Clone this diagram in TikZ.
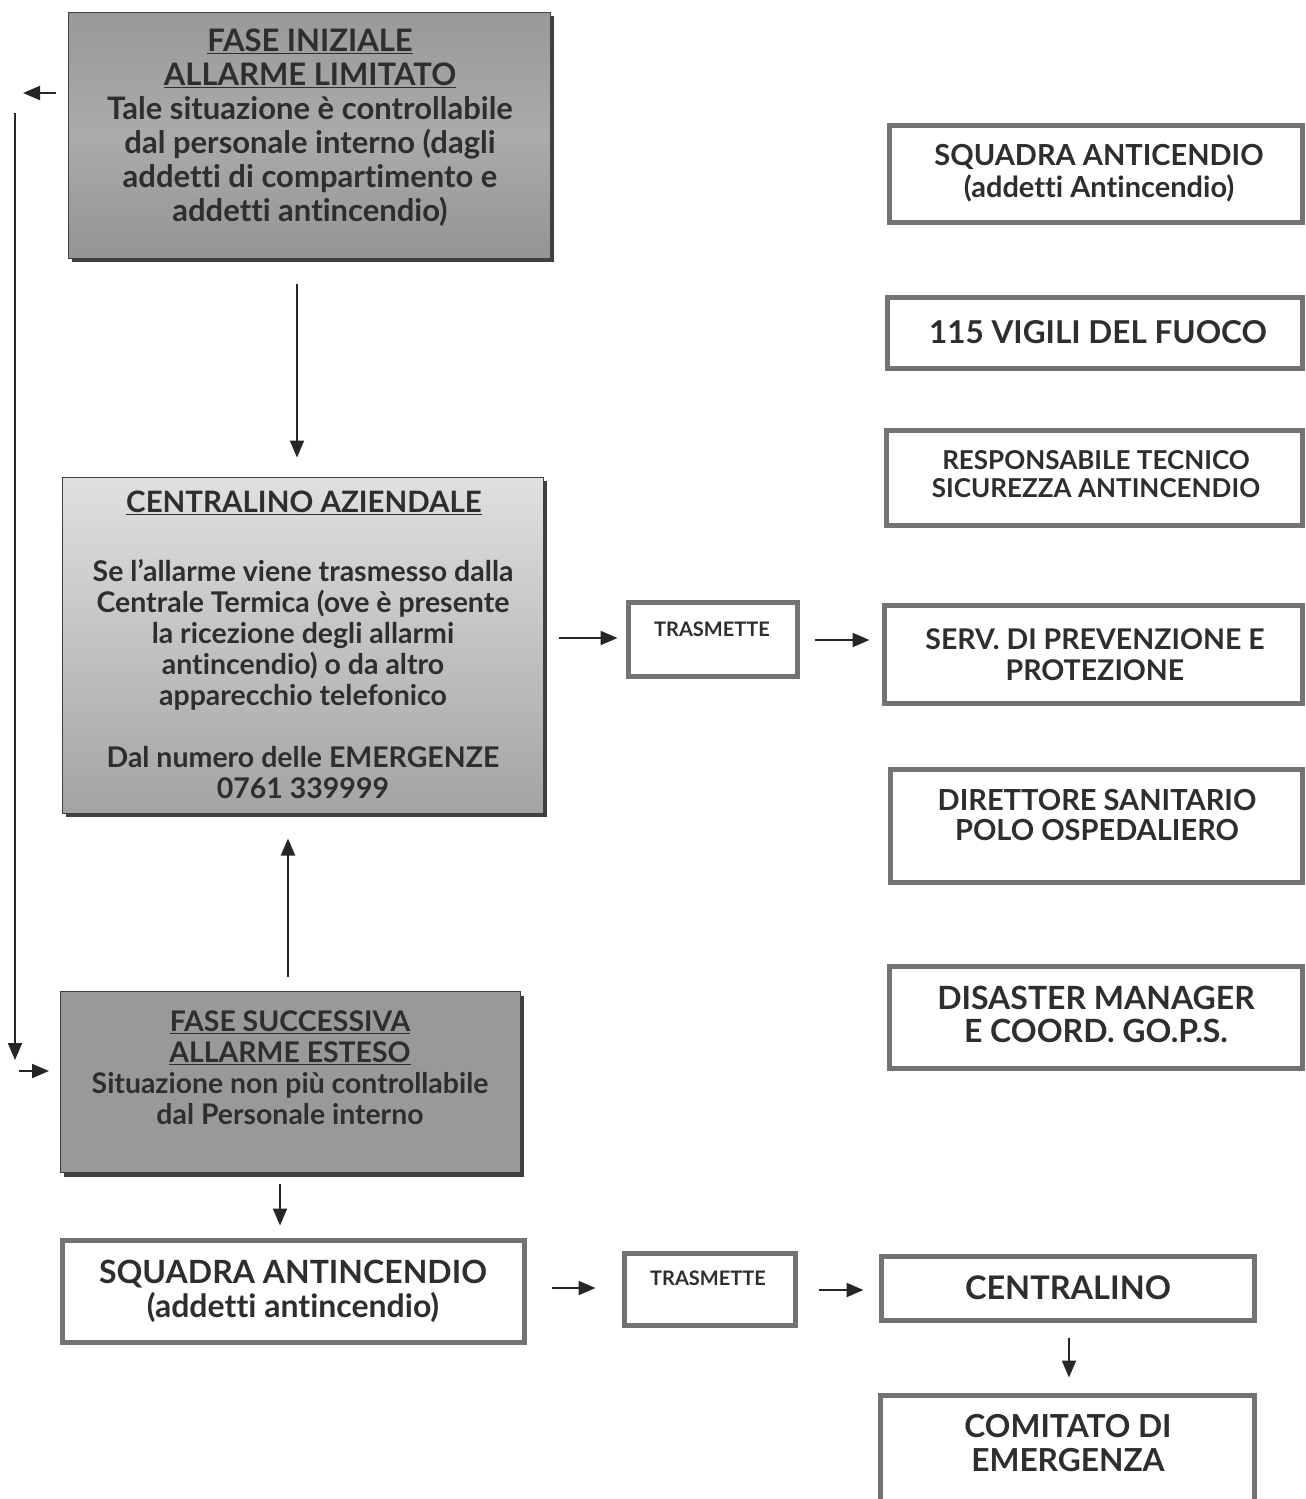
\documentclass[tikz,border=0pt]{standalone}
\usepackage{fontspec}
\setmainfont{Lato}[Ligatures=NoCommon]
\usetikzlibrary{shadows,arrows.meta}
\begin{document}
\begin{tikzpicture}[x=1pt,y=-1pt,
 gbox/.style={draw=black!75, line width=1pt, inner sep=0pt,
   drop shadow={shadow xshift=4pt,shadow yshift=-4pt,fill=black!75,opacity=1}},
 wbox/.style={draw=black!55, line width=5pt, fill=white, inner sep=0pt},
 txt/.style={align=center, text=black!82, inner sep=0pt},
 arr/.style={-{Triangle[length=17pt,width=14pt]}, line width=2pt, draw=black!85}
]
\useasboundingbox (0,0) rectangle (1306,1499);
\fill[white] (0,0) rectangle (1306,1499);

% grey boxes
\node[gbox, minimum width=482pt, minimum height=246pt, top color=black!40, bottom color=black!42, middle color=black!33] (fi) at (309,135) {};
\node[txt, font=\bfseries\fontsize{31}{34}\selectfont] (fit) at (310,128)
 {\underline{FASE INIZIALE}\\\underline{ALLARME LIMITATO}\\Tale situazione è controllabile\\dal personale interno (dagli\\addetti di compartimento e\\addetti antincendio)};

\node[gbox, minimum width=481pt, minimum height=336pt, top color=black!12, bottom color=black!36] (ca) at (302.5,645) {};
\node[txt, font=\bfseries\fontsize{29.5}{31}\selectfont] (cat) at (304,503) {\underline{CENTRALINO AZIENDALE}};
\node[txt, font=\bfseries\fontsize{28.5}{31}\selectfont] (cab) at (303,679)
 {Se l’allarme viene trasmesso dalla\\Centrale Termica (ove è presente\\la ricezione degli allarmi\\antincendio) o da altro\\apparecchio telefonico\\[31pt]Dal numero delle EMERGENZE\\0761 339999};

\node[gbox, minimum width=460pt, minimum height=181pt, fill=black!40] (fs) at (290,1082) {};
\node[txt, font=\bfseries\fontsize{28.4}{31}\selectfont] (fst) at (290,1068)
 {\underline{FASE SUCCESSIVA}\\\underline{ALLARME ESTESO}\\Situazione non più controllabile\\dal Personale interno};

% white boxes
\node[wbox, minimum width=462pt, minimum height=102pt] (sq) at (293,1291) {};
\node[txt, font=\bfseries\fontsize{32}{34}\selectfont] (sqt) at (293,1291) {SQUADRA ANTINCENDIO\\(addetti antincendio)};

\node[wbox, minimum width=169pt, minimum height=74pt] (tr1) at (712.5,639) {};
\node[txt, font=\bfseries\fontsize{20}{22}\selectfont] (tr1t) at (712,629) {TRASMETTE};
\node[wbox, minimum width=171pt, minimum height=72pt] (tr2) at (709.5,1289) {};
\node[txt, font=\bfseries\fontsize{20}{22}\selectfont] (tr2t) at (708,1278) {TRASMETTE};

\node[wbox, minimum width=413pt, minimum height=97pt] (r1) at (1095.5,173.5) {};
\node[txt, font=\bfseries\fontsize{29}{32}\selectfont] (r1t) at (1099,173) {SQUADRA ANTICENDIO\\(addetti Antincendio)};
\node[wbox, minimum width=415pt, minimum height=71pt] (r2) at (1094.5,332.5) {};
\node[txt, font=\bfseries\fontsize{31.5}{32}\selectfont] (r2t) at (1098,332) {115 VIGILI DEL FUOCO};
\node[wbox, minimum width=416pt, minimum height=95pt] (r3) at (1094,477.5) {};
\node[txt, font=\bfseries\fontsize{26}{28}\selectfont] (r3t) at (1096,474) {RESPONSABILE TECNICO\\SICUREZZA ANTINCENDIO};
\node[wbox, minimum width=418pt, minimum height=98pt] (r4) at (1093,654) {};
\node[txt, font=\bfseries\fontsize{28.5}{31}\selectfont] (r4t) at (1095,655) {SERV. DI PREVENZIONE E\\PROTEZIONE};
\node[wbox, minimum width=412pt, minimum height=113pt] (r5) at (1096,825.5) {};
\node[txt, font=\bfseries\fontsize{29}{30}\selectfont] (r5t) at (1097,815) {DIRETTORE SANITARIO\\POLO OSPEDALIERO};
\node[wbox, minimum width=413pt, minimum height=102pt] (r6) at (1095.5,1017) {};
\node[txt, font=\bfseries\fontsize{32}{33}\selectfont] (r6t) at (1096,1014) {DISASTER MANAGER\\E COORD. GO.P.S.};
\node[wbox, minimum width=373pt, minimum height=64pt] (ce) at (1067.5,1288) {};
\node[txt, font=\bfseries\fontsize{32.5}{34}\selectfont] (cet) at (1068,1288) {CENTRALINO};
\node[wbox, minimum width=374pt, minimum height=110pt] (co) at (1067,1450) {};
\node[txt, font=\bfseries\fontsize{31.7}{34}\selectfont] (cot) at (1068,1443) {COMITATO DI\\EMERGENZA};

% side coordinates
\coordinate (lt) at (15,113);
\coordinate (lb) at (15,1060);
\coordinate (ls) at (56,93);
\coordinate (le) at (23,93);
\coordinate (rs) at (19,1071);
\coordinate (re) at (49,1071);

% connectors
\draw[arr] ([shift={(-12,25)}]fi.south) -- ([shift={(-5.5,-19)}]ca.north);
\draw[arr] ([shift={(-2,-14)}]fs.north) -- ([shift={(-14.5,25)}]ca.south);
\draw[arr] (lt) -- (lb);
\draw[arr] (ls) -- (le);
\draw[arr] (rs) -- (re);
\draw[arr] ([shift={(-10,11)}]fs.south) -- ([shift={(-13,-12)}]sq.north);
\draw[arr] ([shift={(15,-7)}]ca.east) -- ([shift={(-8,-1)}]tr1.west);
\draw[arr] ([shift={(15,1)}]tr1.east) -- ([shift={(-12,-14)}]r4.west);
\draw[arr] ([shift={(25,-3)}]sq.east) -- ([shift={(-26,-1)}]tr2.west);
\draw[arr] ([shift={(21,1)}]tr2.east) -- ([shift={(-15,2)}]ce.west);
\draw[arr] ([shift={(1.5,15)}]ce.south) -- ([shift={(2,-15)}]co.north);
\end{tikzpicture}
\end{document}
